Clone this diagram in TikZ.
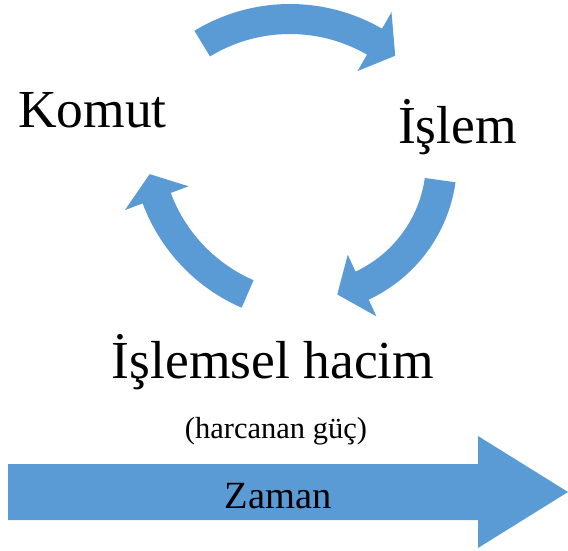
\documentclass[tikz,border=0pt]{standalone}
\usepackage{fontspec}
\setmainfont{Liberation Serif}
\definecolor{arrowblue}{RGB}{91,155,213}
% Curved block arrow on a ring:
% #1,#2 centre, #3 inner radius, #4 outer radius,
% #5 tail angle, #6 head base angle, #7 tip angle, #8 head half width
\newcommand\ringarrow[8]{%
  \fill[arrowblue]
    plot[domain=#5:#6, samples=50] ({#1+#4*cos(\x)},{#2-#4*sin(\x)})
    -- ({#1+((#3+#4)/2+#8)*cos(#6)},{#2-((#3+#4)/2+#8)*sin(#6)})
    -- ({#1+((#3+#4)/2)*cos(#7)},{#2-((#3+#4)/2)*sin(#7)})
    -- ({#1+((#3+#4)/2-#8)*cos(#6)},{#2-((#3+#4)/2-#8)*sin(#6)})
    -- plot[domain=#6:#5, samples=50] ({#1+#3*cos(\x)},{#2-#3*sin(\x)})
    -- cycle;}
\tikzset{
  bigtext/.style={anchor=base, inner sep=0pt, font=\fontsize{53.5}{60}\selectfont},
  smalltext/.style={anchor=base, inner sep=0pt, font=\fontsize{30.5}{36}\selectfont},
  bandtext/.style={anchor=base, inner sep=0pt, font=\fontsize{38.5}{44}\selectfont},
}
\begin{document}
\begin{tikzpicture}[x=1pt, y=-1pt]
  \useasboundingbox (0,0) rectangle (568,551);

  % cycle arrows
  \ringarrow{290}{188}{154}{184}{121.3}{60}{51.5}{34}
  \ringarrow{304}{161}{122}{153}{-8}{-65}{-76}{34}
  \ringarrow{315}{139}{154}{184}{246.5}{200.5}{192}{34}

  % time arrow
  \fill[arrowblue] (8,464) -- (478,464) -- (478,436) -- (568,492)
    -- (478,548) -- (478,520) -- (8,520) -- cycle;

  % labels
  \node[bigtext] (komut) at (92.5,128) {Komut};
  \node[bigtext] (islem) at (457.5,143) {İşlem};
  \node[bigtext] (hacim) at (273,378) {İşlemsel hacim};
  \node[smalltext] (guc) at (276,438) {(harcanan güç)};
  \node[bandtext] (zaman) at (278,508) {Zaman};
\end{tikzpicture}
\end{document}
